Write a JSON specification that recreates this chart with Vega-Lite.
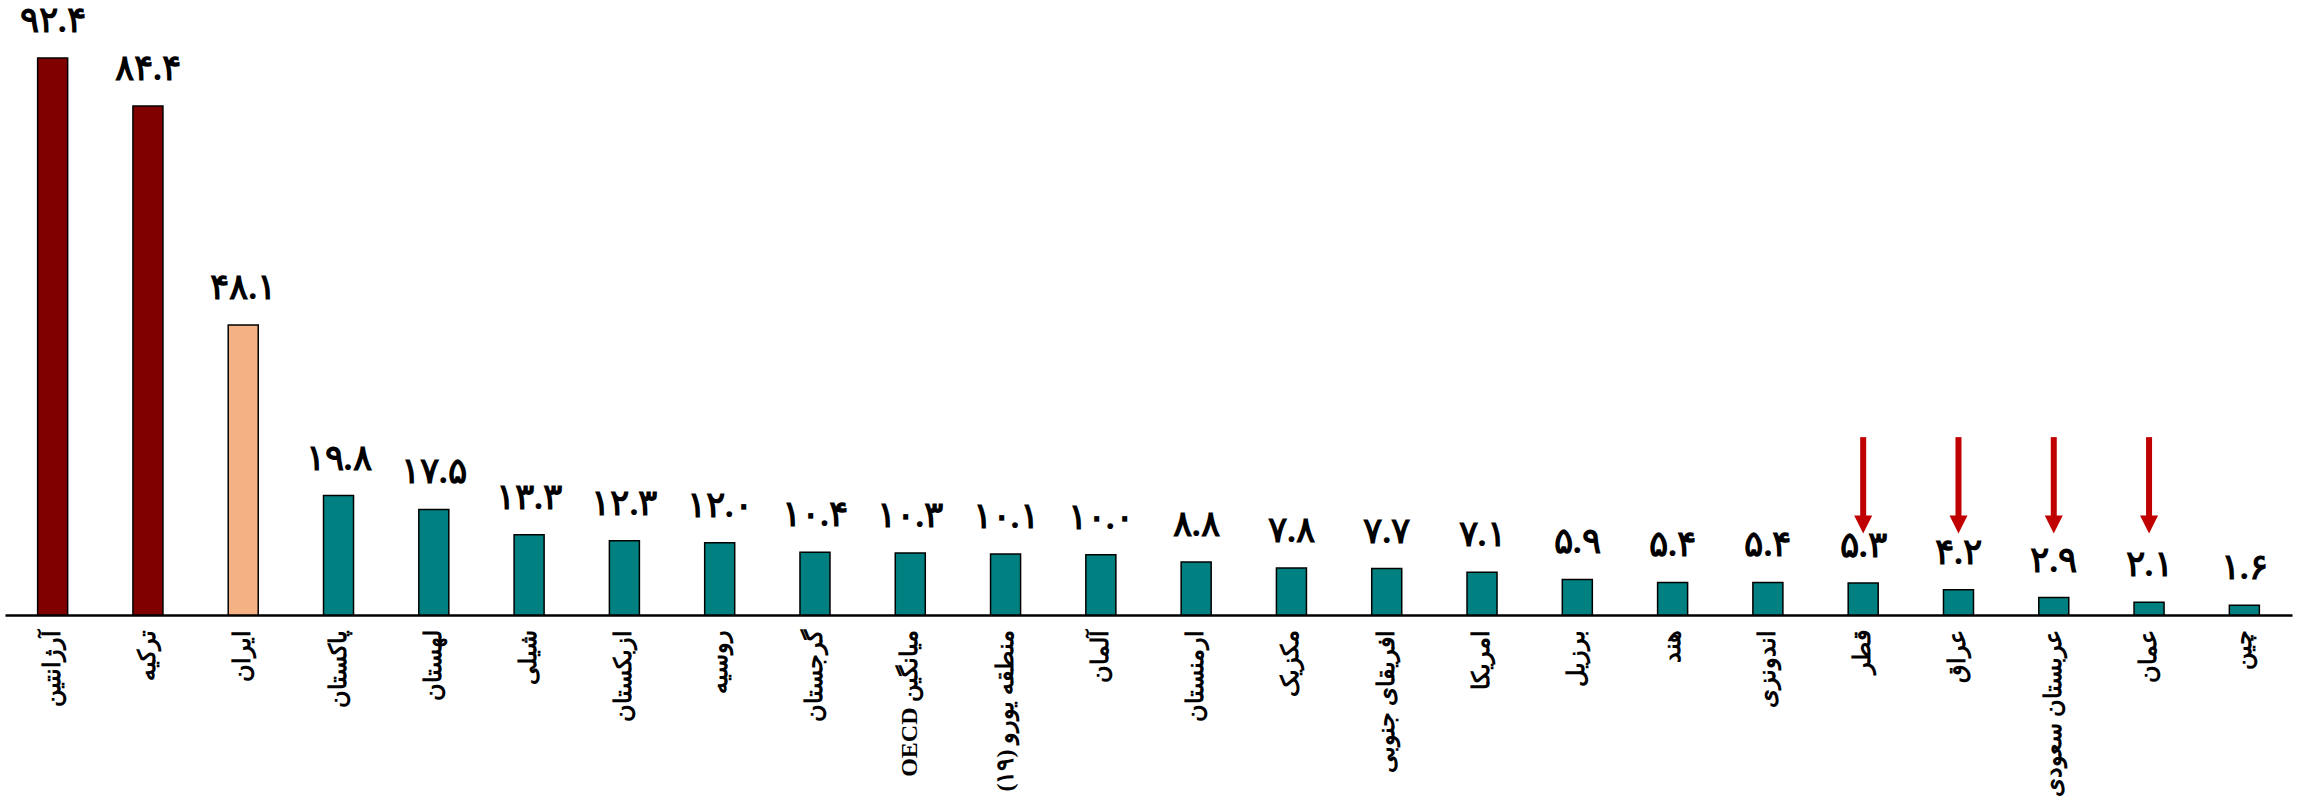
{
  "$schema": "https://vega.github.io/schema/vega-lite/v6.json",
  "width": 2287,
  "height": 615,
  "padding": {"left": 5, "top": 0, "right": 5, "bottom": 0},
  "background": "white",
  "config": {"view": {"stroke": null}},
  "data": {
    "values": [
      {"country": "آرژانتین", "value": 92.4, "label": "۹۲.۴", "group": "high", "arrow": false},
      {"country": "ترکیه", "value": 84.4, "label": "۸۴.۴", "group": "high", "arrow": false},
      {"country": "ایران", "value": 48.1, "label": "۴۸.۱", "group": "iran", "arrow": false},
      {"country": "پاکستان", "value": 19.8, "label": "۱۹.۸", "group": "other", "arrow": false},
      {"country": "لهستان", "value": 17.5, "label": "۱۷.۵", "group": "other", "arrow": false},
      {"country": "شیلی", "value": 13.3, "label": "۱۳.۳", "group": "other", "arrow": false},
      {"country": "ازبکستان", "value": 12.3, "label": "۱۲.۳", "group": "other", "arrow": false},
      {"country": "روسیه", "value": 12.0, "label": "۱۲.۰", "group": "other", "arrow": false},
      {"country": "گرجستان", "value": 10.4, "label": "۱۰.۴", "group": "other", "arrow": false},
      {"country": "\u202bمیانگین OECD\u202c", "value": 10.3, "label": "۱۰.۳", "group": "other", "arrow": false},
      {"country": "\u202bمنطقه یورو (۱۹)\u202c", "value": 10.1, "label": "۱۰.۱", "group": "other", "arrow": false},
      {"country": "آلمان", "value": 10.0, "label": "۱۰.۰", "group": "other", "arrow": false},
      {"country": "ارمنستان", "value": 8.8, "label": "۸.۸", "group": "other", "arrow": false},
      {"country": "مکزیک", "value": 7.8, "label": "۷.۸", "group": "other", "arrow": false},
      {"country": "افریقای جنوبی", "value": 7.7, "label": "۷.۷", "group": "other", "arrow": false},
      {"country": "امریکا", "value": 7.1, "label": "۷.۱", "group": "other", "arrow": false},
      {"country": "برزیل", "value": 5.9, "label": "۵.۹", "group": "other", "arrow": false},
      {"country": "هند", "value": 5.4, "label": "۵.۴", "group": "other", "arrow": false},
      {"country": "اندونزی", "value": 5.4, "label": "۵.۴", "group": "other", "arrow": false},
      {"country": "قطر", "value": 5.3, "label": "۵.۳", "group": "other", "arrow": true},
      {"country": "عراق", "value": 4.2, "label": "۴.۲", "group": "other", "arrow": true},
      {"country": "عربستان سعودی", "value": 2.9, "label": "۲.۹", "group": "other", "arrow": true},
      {"country": "عمان", "value": 2.1, "label": "۲.۱", "group": "other", "arrow": true},
      {"country": "چین", "value": 1.6, "label": "۱.۶", "group": "other", "arrow": false}
    ]
  },
  "encoding": {
    "x": {
      "field": "country",
      "type": "nominal",
      "sort": null,
      "scale": {"paddingInner": 0.685, "paddingOuter": 0.3425},
      "axis": {
        "title": null,
        "labelAngle": -90,
        "labelFont": "Liberation Serif",
        "labelFontSize": 24,
        "labelFontWeight": "bold",
        "labelColor": "black",
        "labelPadding": 14,
        "labelLimit": 400,
        "ticks": false,
        "domainColor": "black",
        "domainWidth": 2.5,
        "grid": false
      }
    }
  },
  "layer": [
    {
      "mark": {"type": "bar", "stroke": "black", "strokeWidth": 1.5},
      "encoding": {
        "y": {"field": "value", "type": "quantitative", "scale": {"domain": [0, 102], "nice": false}, "axis": null},
        "color": {
          "field": "group",
          "type": "nominal",
          "scale": {"domain": ["high", "iran", "other"], "range": ["#800000", "#F4B183", "#008080"]},
          "legend": null
        }
      }
    },
    {
      "mark": {"type": "text", "baseline": "alphabetic", "dy": -26, "fontSize": 36, "fontWeight": "bold", "font": "Liberation Serif", "color": "black"},
      "encoding": {
        "y": {"field": "value", "type": "quantitative"},
        "text": {"field": "label"}
      }
    },
    {
      "transform": [{"filter": "datum.arrow"}],
      "mark": {"type": "rule", "color": "#C00000", "strokeWidth": 6},
      "encoding": {
        "y": {"datum": 29.5},
        "y2": {"datum": 16.0}
      }
    },
    {
      "transform": [{"filter": "datum.arrow"}],
      "mark": {"type": "point", "shape": "M-1,-1L1,-1L0,1Z", "size": 324, "filled": true, "color": "#C00000", "opacity": 1, "strokeWidth": 0},
      "encoding": {
        "y": {"datum": 15.0}
      }
    }
  ]
}
